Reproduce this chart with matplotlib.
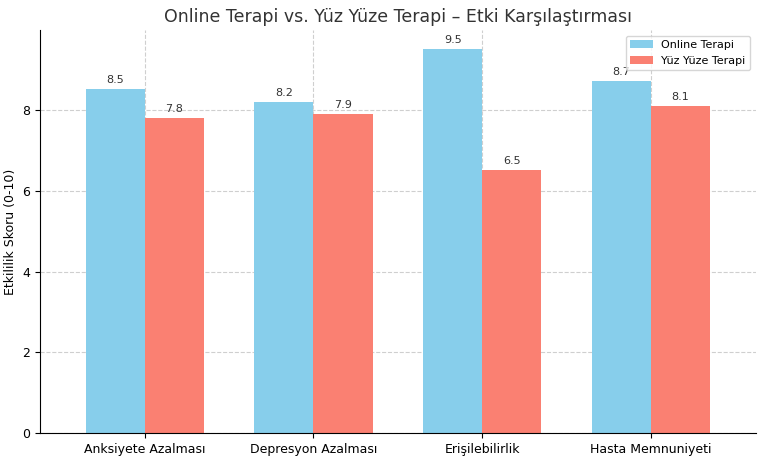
import matplotlib
matplotlib.use("Agg")
import matplotlib.pyplot as plt
import numpy as np

categories = ["Anksiyete Azalması", "Depresyon Azalması", "Erişilebilirlik", "Hasta Memnuniyeti"]
online = [8.5, 8.2, 9.5, 8.7]
yuz = [7.8, 7.9, 6.5, 8.1]

fig = plt.figure(figsize=(7.68, 4.61), dpi=100)
ax = fig.add_axes([0.052, 0.06, 0.932, 0.875])
x = np.arange(len(categories))
w = 0.35
b1 = ax.bar(x - w/2, online, w, color="#87CEEB", label="Online Terapi")
b2 = ax.bar(x + w/2, yuz, w, color="#FA8072", label="Yüz Yüze Terapi")
for bars in (b1, b2):
    for b in bars:
        ax.text(b.get_x() + b.get_width()/2, b.get_height() + 0.1, f"{b.get_height():.1f}",
                ha="center", va="bottom", fontsize=8, color="#333333")
ax.set_xticks(x)
ax.set_xticklabels(categories, fontsize=9)
ax.tick_params(axis="y", labelsize=9)
ax.set_ylabel("Etkililik Skoru (0-10)", fontsize=9)
ax.set_title("Online Terapi vs. Yüz Yüze Terapi – Etki Karşılaştırması", fontsize=12.5, color="#333333")
ax.grid(True, linestyle="--", alpha=0.6)
ax.set_axisbelow(True)
ax.set_ylim(0, 9.97)
ax.set_xlim(-0.62, 3.62)
for s in ("top", "right"):
    ax.spines[s].set_visible(False)
ax.legend(fontsize=8, loc="upper right")
fig.savefig("out.png", dpi=100)
